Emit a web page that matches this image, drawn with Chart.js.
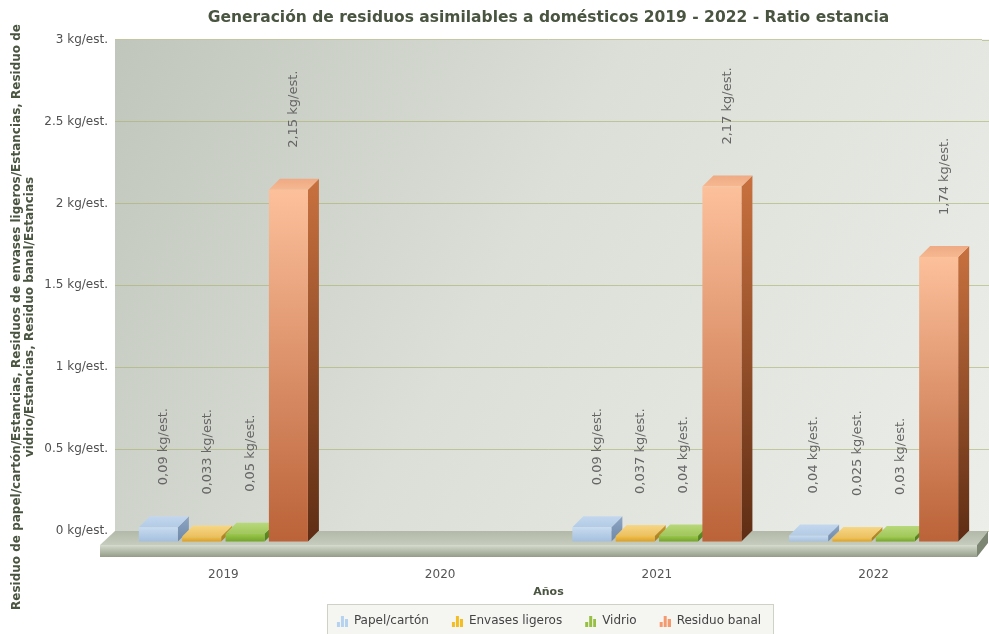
<!DOCTYPE html>
<html>
<head>
<meta charset="utf-8">
<script src="https://cdn.jsdelivr.net/npm/chart.js@4"></script>
<style>
  html, body { margin: 0; padding: 0; background: #ffffff; }
  #wrap { width: 989px; height: 634px; }
</style>
</head>
<body>
<div id="wrap"><canvas id="chart" width="989" height="634"></canvas></div>
<script>
// ---- data ----
const categories = ['2019', '2020', '2021', '2022'];
const seriesNames = ['Papel/cartón', 'Envases ligeros', 'Vidrio', 'Residuo banal'];
const papelCarton = [0.09, null, 0.09, 0.04];
const envasesLigeros = [0.033, null, 0.037, 0.025];
const vidrio = [0.05, null, 0.04, 0.03];
const residuoBanal = [2.15, null, 2.17, 1.74];
const yTickValues = [0, 0.5, 1, 1.5, 2, 2.5, 3];

const titleText = 'Generación de residuos asimilables a domésticos 2019 - 2022 - Ratio estancia';
const yTitleLines = [
  'Residuo de papel/cartón/Estancias, Residuos de envases ligeros/Estancias, Residuo de',
  'vidrio/Estancias, Residuo banal/Estancias'
];
const xTitleText = 'Años';

// ---- styling ----
const FONT = '"DejaVu Sans", Verdana, sans-serif';
const DEPTH = 11;            // depth of the 3D extrusion in px
const GRID = 'rgba(168,176,112,0.6)';
const palette = [
  { icon: '#a9cbee', frontTop: '#c8dbf0', frontBottom: '#a3bedd', topBack: '#c3d7ee', topFront: '#b3cbe6', sideTop: '#8ea6c4', sideBottom: '#6f88a8' },
  { icon: '#f2b400', frontTop: '#f0c254', frontBottom: '#d89c22', topBack: '#f6d785', topFront: '#ecc060', sideTop: '#c49530', sideBottom: '#a97c1c' },
  { icon: '#86b526', frontTop: '#9cc84e', frontBottom: '#72a228', topBack: '#b8d87a', topFront: '#a1c75a', sideTop: '#6b9a2a', sideBottom: '#507e18' },
  { icon: '#f58a58', frontTop: '#fcc09b', frontBottom: '#bb6238', topBack: '#eeaa84', topFront: '#f6b890', sideTop: '#c9713f', sideBottom: '#5e2d14' }
];

// small bar-chart glyph used as legend marker
function makeIcon(color) {
  const c = document.createElement('canvas');
  c.width = 12; c.height = 12;
  const g = c.getContext('2d');
  g.fillStyle = color;
  g.globalAlpha = 0.85;
  g.fillRect(1, 7, 3, 5);
  g.fillRect(5, 1, 3, 11);
  g.fillRect(9, 4, 3, 8);
  return c;
}
const legendIcons = palette.map(p => makeIcon(p.icon));

function frontFill(p) {
  return (ctx) => {
    const chart = ctx.chart;
    const ys = chart.scales && chart.scales.y;
    if (!ys || ctx.raw == null || ys.top === undefined) return p.frontBottom;
    const top = ys.getPixelForValue(ctx.raw);
    const bottom = ys.getPixelForValue(0);
    const g = chart.ctx.createLinearGradient(0, top, 0, bottom);
    g.addColorStop(0, p.frontTop);
    g.addColorStop(1, p.frontBottom);
    return g;
  };
}

function formatValue(v) {
  return String(v).replace('.', ',') + ' kg/est.';
}

// ---- plugins ----
const wallPlugin = {
  id: 'wall',
  beforeDraw(chart) {
    const { ctx, chartArea: a, width } = chart;
    ctx.save();
    const g = ctx.createLinearGradient(a.left, a.top, width, a.bottom);
    g.addColorStop(0, '#c1c6bd');
    g.addColorStop(0.45, '#dbdfd7');
    g.addColorStop(1, '#eceee9');
    ctx.fillStyle = g;
    ctx.fillRect(a.left, a.top, width - a.left, a.bottom - a.top);
    ctx.restore();

    // frame behind the legend entries
    const hb = chart.legend && chart.legend.legendHitBoxes;
    if (hb && hb.length) {
      const minX = Math.min(...hb.map(h => h.left));
      const maxX = Math.max(...hb.map(h => h.left + h.width));
      const top = hb[0].top;
      ctx.save();
      ctx.fillStyle = '#f5f6f2';
      ctx.strokeStyle = '#cdd1c6';
      ctx.lineWidth = 1;
      ctx.fillRect(minX - 9, top - 11, maxX - minX + 21, 60);
      ctx.strokeRect(Math.round(minX - 9) + 0.5, Math.round(top - 11) + 0.5, Math.round(maxX - minX + 21), 60);
      ctx.restore();
    }
  }
};

function drawFloor(ctx, a, width) {
  const backY = a.bottom, frontY = a.bottom + 14, bottomY = frontY + 12;
  const bl = a.left, br = width - 1, fl = a.left - 15, fr = width - 12;
  let g = ctx.createLinearGradient(0, backY, 0, frontY);
  g.addColorStop(0, '#b2b9a8');
  g.addColorStop(1, '#c6ccbe');
  ctx.fillStyle = g;
  ctx.beginPath();
  ctx.moveTo(bl, backY); ctx.lineTo(br, backY); ctx.lineTo(fr, frontY); ctx.lineTo(fl, frontY);
  ctx.closePath(); ctx.fill();

  g = ctx.createLinearGradient(0, frontY, 0, bottomY);
  g.addColorStop(0, '#d6dccf');
  g.addColorStop(0.35, '#bec5b4');
  g.addColorStop(1, '#959d8a');
  ctx.fillStyle = g;
  ctx.fillRect(fl, frontY, fr - fl, bottomY - frontY);

  ctx.fillStyle = '#7d8672';
  ctx.beginPath();
  ctx.moveTo(fr, frontY); ctx.lineTo(br, backY); ctx.lineTo(br, backY + 12); ctx.lineTo(fr, bottomY);
  ctx.closePath(); ctx.fill();
}

const depthPlugin = {
  id: 'depth',
  beforeDatasetsDraw(chart) {
    const { ctx, chartArea: a, width } = chart;
    const ys = chart.scales.y;
    ctx.save();
    // carry the grid lines over the last strip of the back wall
    ctx.strokeStyle = GRID;
    ctx.lineWidth = 1;
    ys.ticks.forEach(t => {
      const py = Math.round(ys.getPixelForValue(t.value)) + 0.5;
      ctx.beginPath(); ctx.moveTo(a.right, py); ctx.lineTo(width, py); ctx.stroke();
    });
    drawFloor(ctx, a, width);

    chart.data.datasets.forEach((ds, i) => {
      const meta = chart.getDatasetMeta(i);
      const p = palette[i];
      meta.data.forEach((el, j) => {
        if (ds.data[j] == null) return;
        const { x, y, base, width: w } = el.getProps(['x', 'y', 'base', 'width'], true);
        const L = x - w / 2, R = x + w / 2;
        // right side
        let g = ctx.createLinearGradient(0, y, 0, base + DEPTH);
        g.addColorStop(0, p.sideTop);
        g.addColorStop(1, p.sideBottom);
        ctx.fillStyle = g;
        ctx.beginPath();
        ctx.moveTo(R, y + DEPTH); ctx.lineTo(R + DEPTH, y); ctx.lineTo(R + DEPTH, base); ctx.lineTo(R, base + DEPTH);
        ctx.closePath(); ctx.fill();
        // top
        g = ctx.createLinearGradient(0, y, 0, y + DEPTH);
        g.addColorStop(0, p.topBack);
        g.addColorStop(1, p.topFront);
        ctx.fillStyle = g;
        ctx.beginPath();
        ctx.moveTo(L, y + DEPTH); ctx.lineTo(R, y + DEPTH); ctx.lineTo(R + DEPTH, y); ctx.lineTo(L + DEPTH, y);
        ctx.closePath(); ctx.fill();
      });
    });
    ctx.restore();
    // front faces are drawn one depth step forward
    ctx.save();
    ctx.translate(0, DEPTH);
  },
  afterDatasetsDraw(chart) {
    const ctx = chart.ctx;
    ctx.restore();
    ctx.save();
    ctx.font = '13px ' + FONT;
    ctx.fillStyle = '#666666';
    ctx.textAlign = 'left';
    ctx.textBaseline = 'middle';
    chart.data.datasets.forEach((ds, i) => {
      const meta = chart.getDatasetMeta(i);
      meta.data.forEach((el, j) => {
        const v = ds.data[j];
        if (v == null) return;
        const { x, y } = el.getProps(['x', 'y'], true);
        ctx.save();
        ctx.translate(x + DEPTH / 2, y - 31);
        ctx.rotate(-Math.PI / 2);
        ctx.fillText(formatValue(v), 0, 0);
        ctx.restore();
      });
    });
    ctx.restore();
  },
  afterDraw(chart) {
    const ctx = chart.ctx;
    ctx.save();
    ctx.font = 'bold 12px ' + FONT;
    ctx.fillStyle = '#4a5541';
    ctx.textAlign = 'center';
    ctx.textBaseline = 'middle';
    const cy = chart.height / 2;
    yTitleLines.forEach((line, k) => {
      ctx.save();
      ctx.translate(17 + k * 13, cy);
      ctx.rotate(-Math.PI / 2);
      ctx.fillText(line, 0, 0);
      ctx.restore();
    });
    ctx.restore();
  }
};

// ---- chart ----
const seriesValues = [papelCarton, envasesLigeros, vidrio, residuoBanal];

new Chart(document.getElementById('chart'), {
  type: 'bar',
  data: {
    labels: categories,
    datasets: seriesNames.map((name, i) => ({
      label: name,
      data: seriesValues[i],
      backgroundColor: frontFill(palette[i]),
      borderWidth: 0,
      categoryPercentage: 0.8,
      barPercentage: 0.9,
      clip: false
    }))
  },
  options: {
    responsive: false,
    animation: false,
    devicePixelRatio: 1,
    events: [],
    layout: { padding: { left: 0, right: 7, top: 0, bottom: -3 } },
    scales: {
      x: {
        grid: { display: false, drawTicks: false },
        border: { display: false },
        ticks: { color: '#555555', font: { family: FONT, size: 12 }, padding: 37 },
        title: {
          display: true, text: xTitleText, color: '#4a5541',
          font: { family: FONT, size: 11, weight: 'bold' },
          padding: { top: 0, bottom: -6 }
        },
        afterFit(scale) { scale.height = 62; }
      },
      y: {
        min: 0, max: 3,
        afterBuildTicks(scale) { scale.ticks = yTickValues.map(v => ({ value: v })); },
        grid: { color: GRID, drawTicks: false },
        border: { display: false },
        ticks: {
          color: '#505050', font: { family: FONT, size: 12 }, padding: 7,
          callback: (v) => v + ' kg/est.'
        },
        afterFit(scale) { scale.width = 115; }
      }
    },
    plugins: {
      title: {
        display: true, text: titleText, color: '#4a5541', fullSize: false,
        font: { family: FONT, size: 15.5, weight: 'bold' },
        padding: { top: 9, bottom: 12 }
      },
      legend: {
        position: 'bottom', fullSize: false,
        labels: {
          usePointStyle: true, boxWidth: 12, padding: 22,
          color: '#444444', font: { family: FONT, size: 12 },
          generateLabels: (chart) => chart.data.datasets.map((ds, i) => ({
            text: ds.label, pointStyle: legendIcons[i], fillStyle: palette[i].icon,
            strokeStyle: 'transparent', lineWidth: 0, hidden: false, datasetIndex: i, fontColor: '#444444'
          }))
        }
      },
      tooltip: { enabled: false }
    }
  },
  plugins: [wallPlugin, depthPlugin]
});
</script>
</body>
</html>
